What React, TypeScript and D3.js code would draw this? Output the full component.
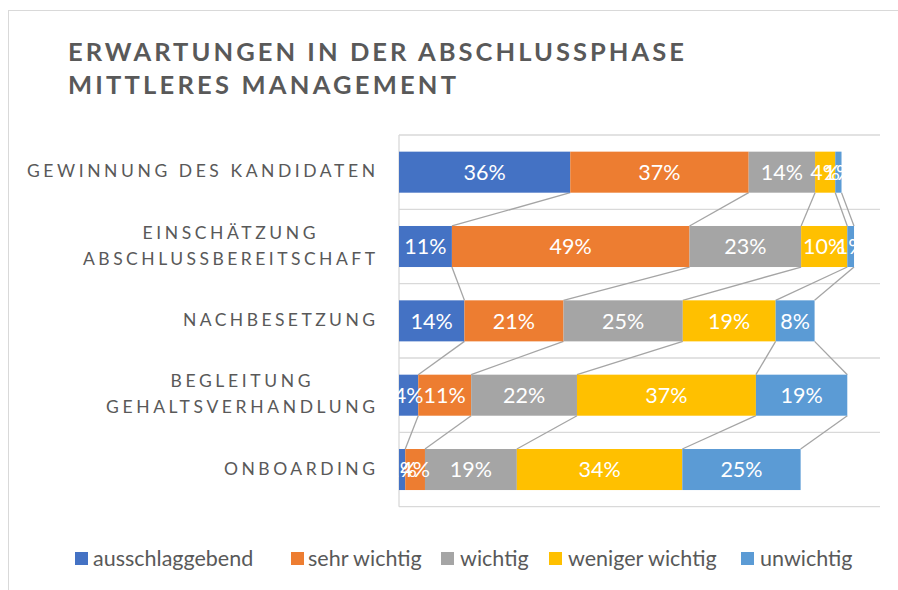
import React from "react";
import * as d3 from "d3";

const categories = [
  "GEWINNUNG DES KANDIDATEN",
  "EINSCHÄTZUNG ABSCHLUSSBEREITSCHAFT",
  "NACHBESETZUNG",
  "BEGLEITUNG GEHALTSVERHANDLUNG",
  "ONBOARDING",
];
const categoryLines = [
  ["GEWINNUNG DES KANDIDATEN"],
  ["EINSCHÄTZUNG", "ABSCHLUSSBEREITSCHAFT"],
  ["NACHBESETZUNG"],
  ["BEGLEITUNG", "GEHALTSVERHANDLUNG"],
  ["ONBOARDING"],
];
const seriesNames = ["ausschlaggebend", "sehr wichtig", "wichtig", "weniger wichtig", "unwichtig"];
const ausschlaggebend = [0.356, 0.11, 0.136, 0.04, 0.013];
const sehrWichtig = [0.371, 0.494, 0.206, 0.11, 0.041];
const wichtig = [0.138, 0.232, 0.248, 0.22, 0.191];
const wenigerWichtig = [0.042, 0.096, 0.193, 0.372, 0.344];
const unwichtig = [0.013, 0.014, 0.081, 0.19, 0.246];
const seriesValues = [ausschlaggebend, sehrWichtig, wichtig, wenigerWichtig, unwichtig];
const colors = ["#4472C4", "#ED7D31", "#A5A5A5", "#FFC000", "#5B9BD5"];
const titleLines = ["ERWARTUNGEN IN DER ABSCHLUSSPHASE", "MITTLERES MANAGEMENT"];

const FONT = "Lato, 'Open Sans', sans-serif";
const TXT = "#595959";

// text widths (letter-spaced labels) measured from layout
const labelWidths: Record<string, number> = {
  "GEWINNUNG DES KANDIDATEN": 348,
  "EINSCHÄTZUNG": 173,
  "ABSCHLUSSBEREITSCHAFT": 292,
  "NACHBESETZUNG": 192,
  "BEGLEITUNG": 140,
  "GEHALTSVERHANDLUNG": 269,
  "ONBOARDING": 151,
};

export default function App() {
  const W = 898, H = 590;
  const x = d3.scaleLinear().domain([0, 1]).range([399, 880]);
  const y = d3.scaleBand<string>().domain(categories).range([135, 506.7]).paddingInner(0.448).paddingOuter(0.224);
  const band = d3.scaleBand<string>().domain(categories).range([135, 506.7]);

  // stacked data
  const rows = categories.map((c, ri) => {
    let acc = 0;
    return seriesValues.map((vals, si) => {
      const x0 = acc;
      acc += vals[ri];
      return { cat: c, si, x0, x1: acc, v: vals[ri] };
    });
  });

  const fmt = (v: number) => `${Math.round(v * 100)}%`;

  const gridYs = [...categories.map((c) => band(c)!), 506.7];

  const legendItems = [
    { sq: 75, tx: 93 },
    { sq: 291, tx: 308 },
    { sq: 441, tx: 460 },
    { sq: 549, tx: 568 },
    { sq: 741, tx: 760 },
  ];

  return (
    <svg width={W} height={H} style={{ position: "absolute", left: 0, top: 0, background: "#fff" }} fontFamily={FONT}>
      <rect x={8.5} y={10.5} width={1000} height={1000} fill="#fff" stroke="#D9D9D9" strokeWidth={1} />
      {titleLines.map((t, i) => (
        <text key={t} x={68} y={i === 0 ? 60.5 : 94} fontSize={25.5} fontWeight={700} fill={TXT}
          textLength={i === 0 ? 616 : 388} lengthAdjust="spacing">{t}</text>
      ))}
      {gridYs.map((gy, i) => (
        <line key={i} x1={399} x2={880} y1={gy} y2={gy} stroke="#D9D9D9" strokeWidth={1.3} />
      ))}
      <line x1={399} x2={399} y1={135} y2={506.7} stroke="#D9D9D9" strokeWidth={1.3} />
      {/* series lines */}
      {categories.slice(0, -1).map((c, ri) =>
        rows[ri].map((seg, si) => (
          <line key={`sl${ri}-${si}`} x1={x(seg.x1)} y1={y(c)! + y.bandwidth()} x2={x(rows[ri + 1][si].x1)}
            y2={y(categories[ri + 1])!} stroke="#A5A5A5" strokeWidth={1.3} />
        ))
      )}
      {rows.map((r, ri) =>
        r.map((seg) => (
          <rect key={`b${ri}-${seg.si}`} x={x(seg.x0)} y={y(seg.cat)} width={x(seg.x1) - x(seg.x0)}
            height={y.bandwidth()} fill={colors[seg.si]} />
        ))
      )}
      {rows.map((r, ri) =>
        r.map((seg) => (
          <text key={`l${ri}-${seg.si}`} x={(x(seg.x0) + x(seg.x1)) / 2} y={y(seg.cat)! + y.bandwidth() / 2 + 7.8}
            textAnchor="middle" fontSize={21.5} fill="#fff">{fmt(seg.v)}</text>
        ))
      )}
      {categoryLines.map((lines, ri) => {
        const cy = band(categories[ri])! + band.bandwidth() / 2 - 1;
        const maxW = Math.max(...lines.map((l) => labelWidths[l]));
        const center = 375 - maxW / 2;
        return lines.map((l, li) => {
          const by = cy + 6.3 + (li - (lines.length - 1) / 2) * 26;
          const w = labelWidths[l];
          return (
            <text key={l} x={center - w / 2} y={by} fontSize={17.5} fill={TXT} textLength={w} lengthAdjust="spacing">{l}</text>
          );
        });
      })}
      {seriesNames.map((s, i) => (
        <g key={s}>
          <rect x={legendItems[i].sq} y={552} width={13} height={13} fill={colors[i]} />
          <text x={legendItems[i].tx} y={566} fontSize={21.5} fill={TXT}>{s}</text>
        </g>
      ))}
    </svg>
  );
}
